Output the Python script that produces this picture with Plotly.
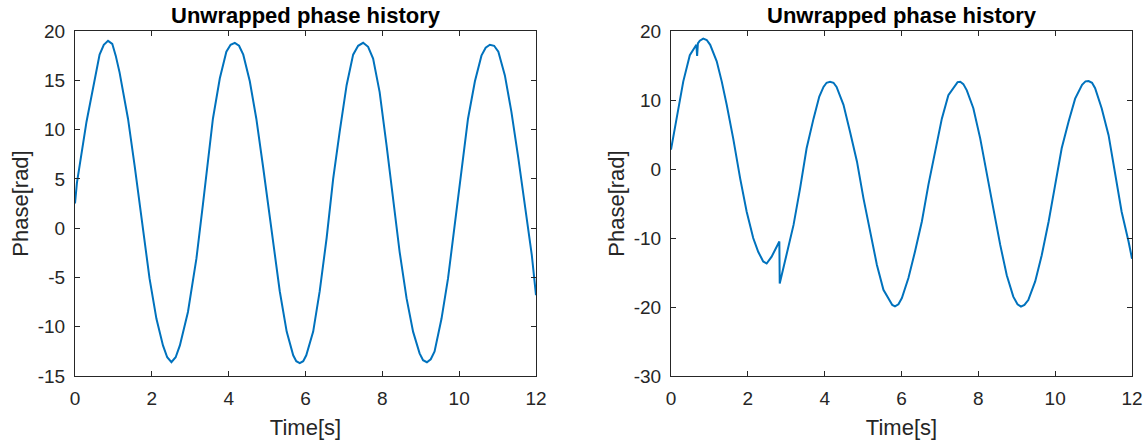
import plotly.graph_objects as go

# ---- data ----
time_left = [0.0, 0.05, 0.30, 0.47, 0.64, 0.75, 0.86, 0.97, 1.06, 1.16, 1.38, 1.55, 1.68, 1.81, 1.94,
             2.12, 2.29, 2.40, 2.51, 2.62, 2.73, 2.94, 3.16, 3.33, 3.49, 3.59, 3.77, 3.94, 4.05,
             4.16, 4.27, 4.38, 4.55, 4.72, 4.90, 5.03, 5.16, 5.33, 5.51, 5.68, 5.76, 5.85, 5.94,
             6.02, 6.20, 6.37, 6.55, 6.72, 6.89, 7.07, 7.24, 7.37, 7.50, 7.63, 7.76, 7.93, 8.11,
             8.28, 8.45, 8.63, 8.80, 8.97, 9.06, 9.16, 9.26, 9.36, 9.54, 9.71, 9.89, 10.06, 10.23,
             10.41, 10.58, 10.69, 10.80, 10.91, 11.02, 11.19, 11.36, 11.54, 11.71, 11.89, 12.0]
phase_left = [2.5, 4.6, 10.8, 14.2, 17.6, 18.6, 19.0, 18.7, 17.5, 15.8, 11.1, 6.4, 2.4, -1.4, -5.1,
              -9.2, -11.9, -13.1, -13.6, -13.1, -11.9, -8.5, -3.1, 2.4, 8.1, 11.1, 15.2, 17.9, 18.6,
              18.8, 18.5, 17.6, 14.9, 11.1, 6.1, 2.4, -1.7, -6.4, -10.5, -12.9, -13.5, -13.7, -13.5,
              -12.9, -10.5, -6.4, -1.0, 5.0, 9.8, 14.5, 17.6, 18.5, 18.8, 18.4, 17.2, 13.8, 8.4,
              3.0, -2.4, -7.1, -10.5, -12.7, -13.4, -13.6, -13.3, -12.5, -9.2, -5.1, 0.5, 5.9, 11.1,
              14.9, 17.5, 18.3, 18.6, 18.5, 17.9, 15.5, 11.8, 7.1, 2.4, -2.7, -6.8]

time_right = [0.0, 0.15, 0.32, 0.49, 0.66, 0.68, 0.70, 0.75, 0.84, 0.93, 1.02, 1.19, 1.32, 1.45, 1.62,
              1.80, 1.97, 2.14, 2.27, 2.40, 2.49, 2.62, 2.82, 2.83, 3.01, 3.19, 3.36, 3.53, 3.71,
              3.86, 3.97, 4.05, 4.14, 4.23, 4.31, 4.49, 4.66, 4.84, 5.01, 5.18, 5.36, 5.53, 5.70,
              5.76, 5.83, 5.92, 6.01, 6.18, 6.35, 6.53, 6.70, 6.87, 7.05, 7.22, 7.40, 7.46, 7.53,
              7.61, 7.70, 7.87, 8.05, 8.22, 8.39, 8.57, 8.74, 8.91, 9.02, 9.11, 9.20, 9.30, 9.48,
              9.65, 9.83, 10.00, 10.17, 10.35, 10.52, 10.70, 10.79, 10.87, 10.96, 11.04, 11.21,
              11.39, 11.56, 11.73, 11.91, 12.0]
phase_right = [2.8, 7.3, 12.7, 16.5, 18.0, 16.4, 18.2, 18.6, 18.9, 18.7, 18.0, 15.6, 12.7, 9.3, 4.4,
               -1.35, -6.2, -10.0, -12.0, -13.4, -13.7, -12.7, -10.5, -16.6, -12.5, -8.1, -2.8, 3.0, 7.3,
               10.5, 11.9, 12.5, 12.65, 12.5, 11.9, 9.3, 5.4, 1.1, -4.25, -9.1, -13.9, -17.5, -19.2,
               -19.7, -19.9, -19.6, -18.7, -15.8, -12.0, -7.6, -2.3, 2.5, 7.3, 10.7, 12.2, 12.6, 12.65,
               12.3, 11.4, 8.8, 4.4, -0.9, -5.7, -11.0, -15.4, -18.5, -19.6, -19.95, -19.7, -19.0, -16.3,
               -12.5, -7.6, -2.3, 3.0, 6.9, 10.2, 12.2, 12.7, 12.75, 12.5, 11.7, 8.8,
               4.9, -0.4, -6.2, -10.5, -13.0]

x_ticks = [0, 2, 4, 6, 8, 10, 12]
x_ticktext = ["0", "2", "4", "6", "8", "10", "12"]
y_ticks_left = [-15, -10, -5, 0, 5, 10, 15, 20]
y_ticktext_left = ["-15", "-10", "-5", "0", "5", "10", "15", "20"]
y_ticks_right = [-30, -20, -10, 0, 10, 20]
y_ticktext_right = ["-30", "-20", "-10", "0", "10", "20"]

title_text = "Unwrapped phase history"
x_label = "Time[s]"
y_label = "Phase[rad]"

# ---- styling ----
W, H = 1146, 448
LINE = "#0072BD"
AX = "#262626"
FONT = "Liberation Sans, Arial, Helvetica, sans-serif"

left_dom = [75 / W, 536 / W]
right_dom = [671 / W, 1132 / W]

fig = go.Figure()
fig.add_trace(go.Scatter(x=time_left, y=phase_left, mode="lines",
                         line=dict(color=LINE, width=2), xaxis="x", yaxis="y",
                         showlegend=False, hoverinfo="skip"))
fig.add_trace(go.Scatter(x=time_right, y=phase_right, mode="lines",
                         line=dict(color=LINE, width=2), xaxis="x2", yaxis="y2",
                         showlegend=False, hoverinfo="skip"))

axis_common = dict(showline=True, mirror="ticks", linecolor=AX, linewidth=1,
                   ticks="inside", ticklen=5, tickcolor=AX, tickwidth=1,
                   showgrid=False, zeroline=False, automargin=False,
                   tickfont=dict(family=FONT, size=19, color=AX))
title_font = dict(family=FONT, size=22, color=AX)

fig.update_layout(
    template="none",
    width=W, height=H,
    margin=dict(l=0, r=0, t=31, b=72, pad=0),
    paper_bgcolor="white", plot_bgcolor="white",
    xaxis=dict(domain=left_dom, range=[0, 12], tickvals=x_ticks, ticktext=x_ticktext,
               anchor="y", ticklabelstandoff=5,
               title=dict(text=x_label, font=title_font, standoff=11),
               **axis_common),
    yaxis=dict(domain=[0, 1], range=[-15, 20], tickvals=y_ticks_left, ticktext=y_ticktext_left,
               anchor="x", ticklabelstandoff=5,
               title=dict(text=y_label, font=title_font, standoff=3),
               **axis_common),
    xaxis2=dict(domain=right_dom, range=[0, 12], tickvals=x_ticks, ticktext=x_ticktext,
                anchor="y2", ticklabelstandoff=5,
                title=dict(text=x_label, font=title_font, standoff=11),
                **axis_common),
    yaxis2=dict(domain=[0, 1], range=[-30, 20], tickvals=y_ticks_right, ticktext=y_ticktext_right,
                anchor="x2", ticklabelstandoff=5,
                title=dict(text=y_label, font=title_font, standoff=3),
                **axis_common),
    annotations=[
        dict(text="<b>%s</b>" % title_text, x=(left_dom[0] + left_dom[1]) / 2, y=1,
             xref="paper", yref="paper", xanchor="center", yanchor="bottom", yshift=1,
             showarrow=False, font=dict(family=FONT, size=22, color="black")),
        dict(text="<b>%s</b>" % title_text, x=(right_dom[0] + right_dom[1]) / 2, y=1,
             xref="paper", yref="paper", xanchor="center", yanchor="bottom", yshift=1,
             showarrow=False, font=dict(family=FONT, size=22, color="black")),
    ],
)

fig.write_html("out.html", config={"displayModeBar": False},
               post_script="document.body.style.margin='0px';")
